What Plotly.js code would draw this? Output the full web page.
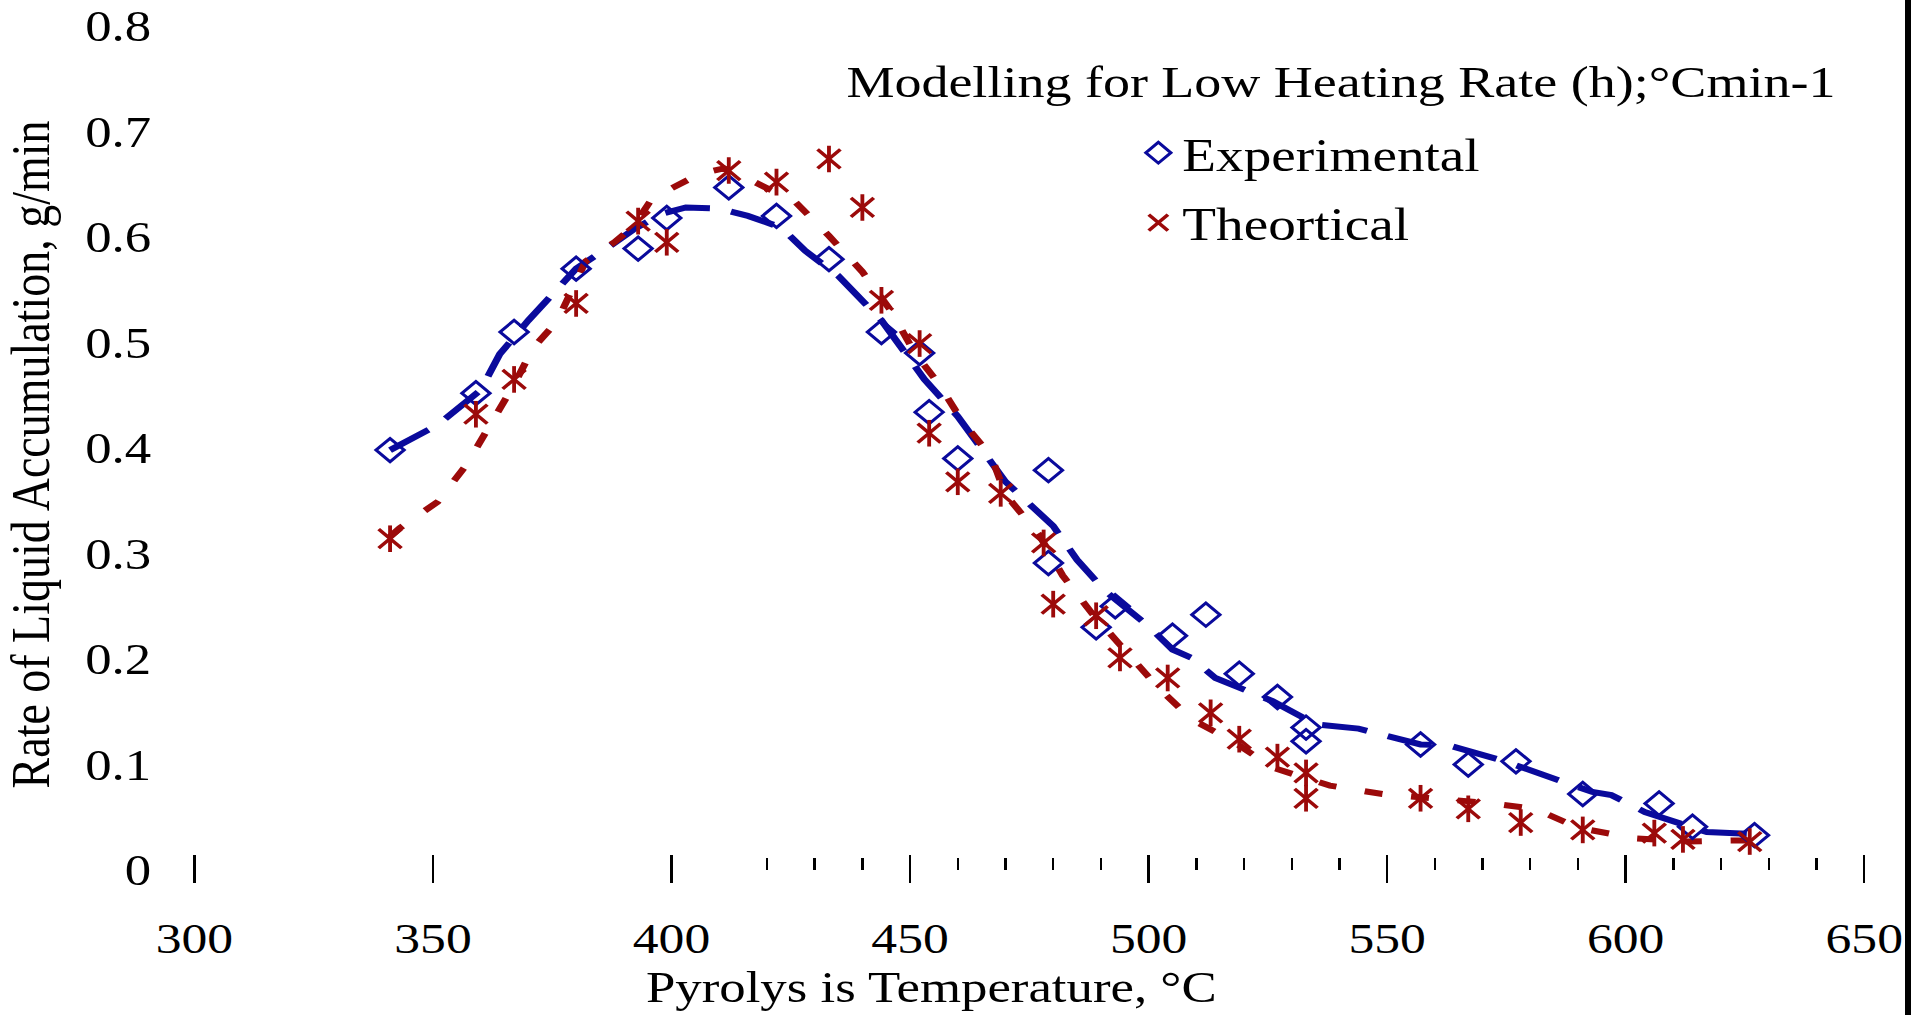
<!DOCTYPE html>
<html>
<head>
<meta charset="utf-8">
<script src="https://cdn.plot.ly/plotly-3.0.1.min.js"></script>
<style>
html,body{margin:0;padding:0;background:#fff;overflow:hidden;width:1911px;height:1015px;}
#chart{position:absolute;left:0;top:0;width:1592px;height:1015px;transform:scaleX(1.2004);transform-origin:0 0;}
#edge{position:absolute;left:1905px;top:0;width:6px;height:1015px;background:#000;}
</style>
</head>
<body>
<div id="chart"></div>
<div id="edge"></div>
<script>
// ---- data ----
const expTemp = [341,359,367,380,393,399,412,422,433,444,452,454,460,479,479,489,493,505,512,519,527,533,533,557,567,577,591,607,614,627];
const expRate = [0.398,0.452,0.51,0.57,0.589,0.618,0.647,0.62,0.579,0.51,0.49,0.434,0.39,0.379,0.291,0.23,0.25,0.222,0.242,0.186,0.164,0.135,0.122,0.119,0.10,0.103,0.072,0.063,0.041,0.033];

const theoTemp = [341,359,367,380,393,399,412,422,433,440,444,452,454,460,469,478,480,489,494,504,513,519,527,533,533,557,567,578,591,606,612,626];
const theoRate = [0.314,0.432,0.465,0.537,0.615,0.595,0.663,0.652,0.674,0.628,0.54,0.499,0.414,0.368,0.357,0.31,0.252,0.241,0.201,0.182,0.149,0.124,0.107,0.092,0.068,0.068,0.058,0.045,0.038,0.035,0.029,0.027];

const expFitTemp = [341,351,360,364,370,375,380,386,392,398,403,410,416,423,428,435,444,449,453,460,470,480,485,491,500,505,509,514,526,535,544,557,563,574,586,593,597,604,617,627];
const expFitRate = [0.398,0.422,0.455,0.489,0.521,0.545,0.57,0.588,0.607,0.622,0.628,0.627,0.62,0.609,0.587,0.563,0.521,0.49,0.465,0.43,0.368,0.326,0.294,0.264,0.231,0.209,0.201,0.182,0.16,0.138,0.134,0.119,0.118,0.104,0.086,0.074,0.071,0.055,0.036,0.034];

const theoFitTemp = [341,343,351,357,362,367,371,376,382,388,392,396,406,411,417,426,433,440,446,451,456,461,467,470,477,482,488,495,502,509,518,526,538,549,559,570,581,590,602,613,622,627];
const theoFitRate = [0.316,0.324,0.349,0.384,0.422,0.46,0.495,0.52,0.577,0.595,0.61,0.637,0.66,0.665,0.653,0.633,0.601,0.567,0.53,0.49,0.461,0.425,0.392,0.356,0.318,0.279,0.244,0.208,0.173,0.143,0.121,0.097,0.08,0.072,0.068,0.064,0.058,0.04,0.03,0.027,0.028,0.028];

const xMajorTicks = [300,350,400,450,500,550,600,650];
const xMinorTicks = [420,430,440,460,470,480,490,510,520,530,540,560,570,580,590,610,620,630,640];
const yTicks = [0,0.1,0.2,0.3,0.4,0.5,0.6,0.7,0.8];

const seriesNames = ['Experimental','Theortical'];
const legendTitle = 'Modelling for Low Heating Rate (h);°Cmin-1';
const xTitle = 'Pyrolys is Temperature, °C';
const yTitle = 'Rate of Liquid Accumulation, g/min';

// ---- styling ----
const BLUE = '#0a0a9c';
const RED = '#9c0a0a';
const FONT = 'Liberation Serif, "Times New Roman", serif';
const W = 1592, H = 1015;
const mL = 160.4, mR = 37.2, mT = 26, mB = 132;
const plotH = H - mT - mB;

const traces = [
  {x: expFitTemp, y: expFitRate, mode:'lines', type:'scatter', showlegend:false, hoverinfo:'skip',
   line:{color:BLUE, width:6, dash:'38px,18px'}},
  {x: theoFitTemp, y: theoFitRate, mode:'lines', type:'scatter', showlegend:false, hoverinfo:'skip',
   line:{color:RED, width:6, dash:'15px,24px'}},
  {x: expTemp, y: expRate, mode:'markers', type:'scatter', name: seriesNames[0], legendgroup:'a',
   marker:{symbol:'diamond-open', size:18, color:BLUE, line:{color:BLUE, width:2.8}}},
  {x: theoTemp, y: theoRate, mode:'markers', type:'scatter', name: seriesNames[1], legendgroup:'b',
   marker:{symbol:'x-thin-open', size:19, color:RED, line:{color:RED, width:3.2}}},
  {x: theoTemp, y: theoRate, mode:'markers', type:'scatter', showlegend:false, legendgroup:'b', hoverinfo:'skip',
   marker:{symbol:'line-ns-open', size:19, color:RED, line:{color:RED, width:3.2}}},
  {x: [], y: [], xaxis:'x2', yaxis:'y', mode:'markers', type:'scatter', showlegend:false, hoverinfo:'skip'}
];

const layout = {
  width: W, height: H,
  margin: {l: mL, r: mR, t: mT, b: mB, pad: 0},
  paper_bgcolor: '#ffffff', plot_bgcolor: '#ffffff',
  font: {family: FONT, color: '#000000'},
  showlegend: true,
  legend: {x: 0.5627, y: 0.8946, xanchor:'left', yanchor:'top', font:{family:FONT, size:46, color:'#000'},
           bgcolor:'rgba(0,0,0,0)', borderwidth:0, traceorder:'grouped', tracegroupgap:7},
  xaxis: {range:[299.5,650.5], tickmode:'array', tickvals:xMajorTicks, ticks:'inside', ticklen:28, tickwidth:2,
          tickcolor:'#000', showline:false, showgrid:false, zeroline:false,
          tickfont:{family:FONT, size:43, color:'#000'}, ticklabelstandoff:26},
  xaxis2: {range:[299.5,650.5], overlaying:'x', anchor:'free', position: 13/plotH, side:'bottom',
           tickmode:'array', tickvals:xMinorTicks, ticks:'inside', ticklen:12, tickwidth:2, tickcolor:'#000',
           showticklabels:false, showgrid:false, zeroline:false, showline:false},
  yaxis: {range:[-13/1055, 0.8], tickmode:'array', tickvals:yTicks, ticks:'', showline:false, showgrid:false,
          zeroline:false, tickfont:{family:FONT, size:44, color:'#000'}, ticklabelstandoff:33,
          title:{text:yTitle, font:{family:FONT, size:46, color:'#000'}, standoff:18}},
  annotations: [
    {text: legendTitle, xref:'paper', yref:'paper', x:0.3893, y:0.9347, xanchor:'left', yanchor:'middle',
     showarrow:false, font:{family:FONT, size:45, color:'#000'}},
    {text: xTitle, xref:'paper', yref:'paper', x:0.4417, y:-0.1225, xanchor:'center', yanchor:'middle',
     showarrow:false, font:{family:FONT, size:44, color:'#000'}}
  ]
};

Plotly.newPlot('chart', traces, layout, {displayModeBar:false, staticPlot:true});
</script>
</body>
</html>
